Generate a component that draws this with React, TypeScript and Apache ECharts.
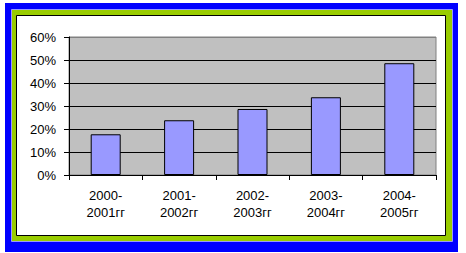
import React, { useEffect, useRef } from "react";
import * as echarts from "echarts";

const categories: string[] = [
  "2000-\n2001гг",
  "2001-\n2002гг",
  "2002-\n2003гг",
  "2003-\n2004гг",
  "2004-\n2005гг",
];
const values: number[] = [17.7, 23.8, 28.7, 33.8, 48.6];
const yMin = 0;
const yMax = 60;
const yInterval = 10;

const FONT = "'Liberation Sans', Arial, sans-serif";

export default function App() {
  const ref = useRef<HTMLDivElement>(null);
  useEffect(() => {
    if (!ref.current) return;
    const chart = echarts.init(ref.current, undefined, { renderer: "svg" });
    chart.setOption({
      animation: false,
      backgroundColor: "#ffffff",
      textStyle: { fontFamily: FONT },
      graphic: [
        {
          type: "rect",
          z: -10,
          shape: { x: 5, y: 3, width: 453, height: 249 },
          style: { fill: "#0000FF" },
        },
        {
          type: "rect",
          z: -9,
          shape: { x: 11.5, y: 9.5, width: 441, height: 232 },
          style: { fill: "#99CC00", stroke: "#9999FF", lineWidth: 1 },
        },
        {
          type: "rect",
          z: -8,
          shape: { x: 16.5, y: 15.5, width: 429, height: 220 },
          style: { fill: "#FFFFFF", stroke: "#000000", lineWidth: 1 },
        },
      ],
      grid: {
        left: 69,
        right: 30,
        top: 37,
        bottom: 78,
        show: true,
        backgroundColor: "#C0C0C0",
        borderColor: "#808080",
        borderWidth: 1,
      },
      xAxis: {
        type: "category",
        data: categories,
        boundaryGap: true,
        axisLine: { show: true, lineStyle: { color: "#000000", width: 1 } },
        axisTick: { show: true, length: 5, lineStyle: { color: "#000000" } },
        axisLabel: {
          color: "#000000",
          fontSize: 13,
          lineHeight: 17,
          margin: 12,
          fontFamily: FONT,
        },
        splitLine: { show: false },
      },
      yAxis: {
        type: "value",
        min: yMin,
        max: yMax,
        interval: yInterval,
        axisLine: { show: true, lineStyle: { color: "#000000", width: 1 } },
        axisTick: { show: true, length: 5, lineStyle: { color: "#000000" } },
        axisLabel: {
          color: "#000000",
          fontSize: 13,
          margin: 13,
          formatter: "{value}%",
          fontFamily: FONT,
        },
        splitLine: {
          show: true,
          lineStyle: {
            color: ["#000000", "#000000", "#000000", "#000000", "#000000", "#000000", "#808080"],
            width: 1,
          },
        },
      },
      series: [
        {
          type: "bar",
          data: values,
          barWidth: 30,
          itemStyle: { color: "#9999FF", borderColor: "#000000", borderWidth: 1 },
        },
      ],
    });
    return () => chart.dispose();
  }, []);
  return (
    <div
      ref={ref}
      style={{ position: "absolute", left: 0, top: 0, width: 466, height: 253 }}
    />
  );
}
